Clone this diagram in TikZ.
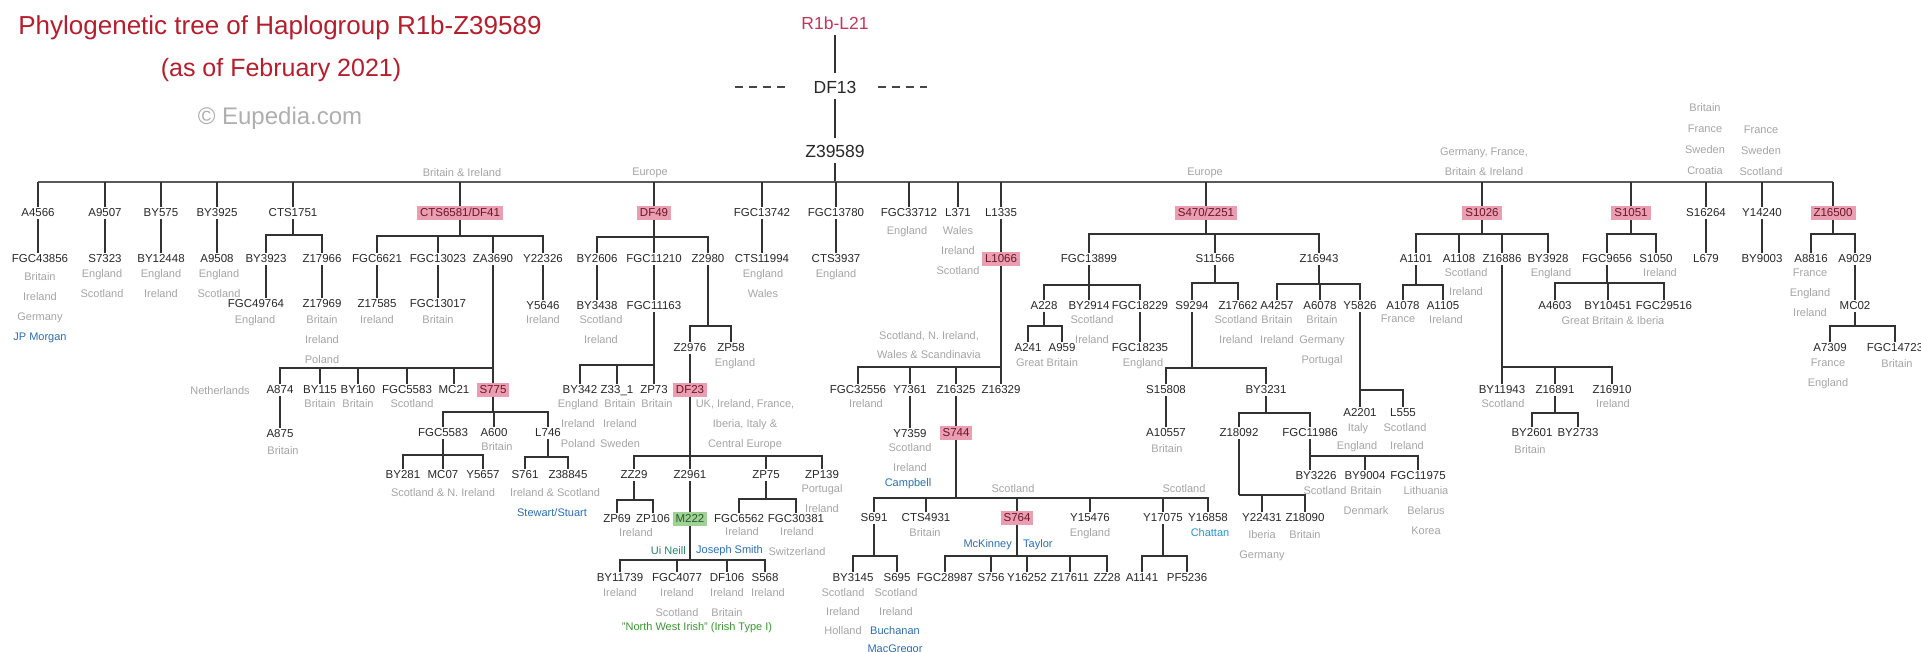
\documentclass[tikz,border=0pt]{standalone}
\usepackage{fontspec}
\setmainfont{Liberation Sans}
\definecolor{titlered}{RGB}{180,30,45}
\definecolor{rootred}{RGB}{196,52,92}
\definecolor{lbltxt}{RGB}{40,40,40}
\definecolor{grtxt}{RGB}{165,165,165}
\definecolor{bltxt}{RGB}{45,110,175}
\definecolor{cyantxt}{RGB}{40,150,195}
\definecolor{tealtxt}{RGB}{40,130,110}
\definecolor{greentxt}{RGB}{60,150,50}
\definecolor{hlfill}{RGB}{233,158,178}
\definecolor{hltxt}{RGB}{110,20,40}
\definecolor{hgfill}{RGB}{160,210,150}
\definecolor{hgtxt}{RGB}{40,90,40}
\definecolor{linec}{RGB}{50,50,50}
\definecolor{mainc}{RGB}{90,90,90}
\definecolor{copyc}{RGB}{175,175,175}
\definecolor{dashc}{RGB}{70,70,70}

\newcommand\lblf{\fontsize{11.5}{14}\selectfont}
\newcommand\grf{\fontsize{11}{20}\selectfont}
\newcommand\bigf{\fontsize{17.5}{20}\selectfont}

% marker node: name, x, y, text
\newcommand\tnode[5][lb]{\node[#1] (#2) at (#3,#4) {#5};}
% grey note whose first line is centred on (x,y)
\newcommand\gnode[5][gr]{\node[#1] (#2) at (#3,{#4-4}) {#5};}
% straight drop from a marker to the one below it
\newcommand\down[2]{\draw[ln] (#1.south) -- (#1.south |- #2.north);}
% parent, bar level, children
\newcommand\fork[3]{%
  \coordinate (#1B) at (#1.south |- 0,#2);
  \draw[ln] (#1.south) -- (#1B);
  \foreach \kid in {#3}{\draw[ln] (#1B) -| (\kid.north);}}

\tikzset{
  lb/.style={font=\lblf, text=lbltxt, inner sep=1.5pt, text height=8.4pt, text depth=0.6pt},
  hl/.style={lb, fill=hlfill, text=hltxt, inner xsep=3pt, inner ysep=2.5pt},
  hg/.style={lb, fill=hgfill, text=hgtxt, inner xsep=3pt, inner ysep=2.5pt},
  gr/.style={font=\grf, text=grtxt, align=center, anchor=north, inner sep=0pt},
  bl/.style={gr, text=bltxt},
  ln/.style={draw=linec, line width=1.7pt},
  mainln/.style={draw=mainc, line width=2.8pt},
}

\begin{document}
\begin{tikzpicture}[x=1pt, y=-1pt]
\fill[white] (0,0) rectangle (1921,652);
\useasboundingbox (0,0) rectangle (1921,652);

% ---------- headings ----------
\node[font=\fontsize{26}{30}\selectfont, text=titlered, anchor=base] (title1) at (280,35) {Phylogenetic tree of Haplogroup R1b-Z39589};
\node[font=\fontsize{25}{30}\selectfont, text=titlered, anchor=base] (title2) at (281,77) {(as of February 2021)};
\node[font=\fontsize{24}{30}\selectfont, text=copyc, anchor=base] (title3) at (280,125) {© Eupedia.com};

% ---------- root ----------
\node[font=\bigf, text=rootred, anchor=base, inner sep=2pt] (R1bL21) at (835,30) {R1b-L21};
\node[font=\bigf, text=lbltxt, anchor=base, inner sep=2pt] (DF13) at (835,94) {DF13};
\node[font=\bigf, text=lbltxt, anchor=base, inner sep=2pt] (Z39589) at (835,158) {Z39589};
\draw[ln, shorten <=3pt, shorten >=7pt] (R1bL21.south) -- (R1bL21.south |- DF13.north);
\draw[ln, shorten <=3pt, shorten >=6pt] (DF13.south) -- (DF13.south |- Z39589.north);
\coordinate (dL1) at (735,87); \coordinate (dL2) at (787,87);
\coordinate (dR1) at (878,87); \coordinate (dR2) at (927,87);
\draw[draw=dashc, line width=1.4pt, dash pattern=on 8pt off 6pt] (dL1) -- (dL2);
\draw[draw=dashc, line width=1.4pt, dash pattern=on 8pt off 6pt] (dR1) -- (dR2);

% ---------- first level ----------
\tnode{A4566}{38}{213}{A4566}
\tnode{A9507}{105}{213}{A9507}
\tnode{BY575}{161}{213}{BY575}
\tnode{BY3925}{217}{213}{BY3925}
\tnode{CTS1751}{293}{213}{CTS1751}
\tnode[hl]{CTS6581}{460}{213}{CTS6581/DF41}
\tnode[hl]{DF49}{654}{213}{DF49}
\tnode{FGC13742}{762}{213}{FGC13742}
\tnode{FGC13780}{836}{213}{FGC13780}
\tnode{FGC33712}{909}{213}{FGC33712}
\tnode{L371}{958}{213}{L371}
\tnode{L1335}{1001}{213}{L1335}
\tnode[hl]{S470}{1206}{213}{S470/Z251}
\tnode[hl]{S1026}{1482}{213}{S1026}
\tnode[hl]{S1051}{1631}{213}{S1051}
\tnode{S16264}{1706}{213}{S16264}
\tnode{Y14240}{1762}{213}{Y14240}
\tnode[hl]{Z16500}{1833}{213}{Z16500}

\coordinate (mainB) at (835,182);
\draw[ln, shorten <=3pt] (Z39589.south) -- (mainB);
\draw[mainln] (A4566.north |- mainB) -- (Z16500.north |- mainB);
\foreach \kid in {A4566,A9507,BY575,BY3925,CTS1751,CTS6581,DF49,FGC13742,FGC13780,FGC33712,L371,L1335,S470,S1026,S1051,S16264,Y14240,Z16500}
  {\draw[ln] (\kid.north |- mainB) -- (\kid.north);}

% regions over the first level
\gnode{rBI}{462}{172}{Britain \& Ireland}
\gnode{rEu1}{650}{172}{Europe}
\gnode{rEu2}{1205}{172}{Europe}
\gnode{rGF}{1484}{152}{Germany, France,\\Britain \& Ireland}
\gnode[gr, font=\fontsize{11}{21}\selectfont]{rS16264}{1705}{107}{Britain\\France\\Sweden\\Croatia}
\gnode[gr, font=\fontsize{11}{21}\selectfont]{rY14240}{1761}{130}{France\\Sweden\\Scotland}
\gnode{gFGC33712}{907}{230}{England}
\gnode{gL371}{958}{230}{Wales\\Ireland\\Scotland}

% ---------- small early branches ----------
\tnode{FGC43856}{40}{259}{FGC43856} \down{A4566}{FGC43856}
\gnode{gFGC43856}{40}{276}{Britain\\Ireland\\Germany\\\textcolor{bltxt}{JP Morgan}}
\tnode{S7323}{105}{259}{S7323} \down{A9507}{S7323}
\gnode{gS7323}{102}{273}{England\\Scotland}
\tnode{BY12448}{161}{259}{BY12448} \down{BY575}{BY12448}
\gnode{gBY12448}{161}{273}{England\\Ireland}
\tnode{A9508}{217}{259}{A9508} \down{BY3925}{A9508}
\gnode{gA9508}{219}{273}{England\\Scotland}

% CTS1751
\tnode{BY3923}{266}{259}{BY3923}
\tnode{Z17966}{322}{259}{Z17966}
\fork{CTS1751}{235}{BY3923,Z17966}
\tnode{FGC49764}{256}{304}{FGC49764} \down{BY3923}{FGC49764}
\gnode{gFGC49764}{255}{319}{England}
\tnode{Z17969}{322}{304}{Z17969} \down{Z17966}{Z17969}
\gnode{gZ17969}{322}{319}{Britain\\Ireland\\Poland}

% CTS6581/DF41
\tnode{FGC6621}{377}{259}{FGC6621}
\tnode{FGC13023}{438}{259}{FGC13023}
\tnode{ZA3690}{493}{259}{ZA3690}
\tnode{Y22326}{543}{259}{Y22326}
\fork{CTS6581}{236}{FGC6621,FGC13023,ZA3690,Y22326}
\tnode{Z17585}{377}{304}{Z17585} \down{FGC6621}{Z17585}
\gnode{gZ17585}{377}{319}{Ireland}
\tnode{FGC13017}{438}{304}{FGC13017} \down{FGC13023}{FGC13017}
\gnode{gFGC13017}{438}{319}{Britain}
\tnode{Y5646}{543}{306}{Y5646} \down{Y22326}{Y5646}
\gnode{gY5646}{543}{319}{Ireland}

\tnode{A874}{280}{390}{A874}
\tnode{BY115}{320}{390}{BY115}
\tnode{BY160}{358}{390}{BY160}
\tnode{FGC5583a}{407}{390}{FGC5583}
\tnode{MC21}{454}{390}{MC21}
\tnode[hl]{S775}{493}{390}{S775}
\fork{ZA3690}{368}{A874,BY115,BY160,FGC5583a,MC21,S775}
\gnode{gNeth}{220}{390}{Netherlands}
\gnode{gBY115}{320}{403}{Britain}
\gnode{gBY160}{358}{403}{Britain}
\gnode{gFGC5583a}{412}{403}{Scotland}
\tnode{A875}{280}{434}{A875} \down{A874}{A875}
\gnode{gA875}{283}{450}{Britain}

\tnode{FGC5583b}{443}{433}{FGC5583}
\tnode{A600}{494}{433}{A600}
\tnode{L746}{548}{433}{L746}
\fork{S775}{412}{FGC5583b,A600,L746}
\gnode{gA600}{497}{446}{Britain}
\tnode{BY281}{403}{475}{BY281}
\tnode{MC07}{443}{475}{MC07}
\tnode{Y5657}{483}{475}{Y5657}
\fork{FGC5583b}{455}{BY281,MC07,Y5657}
\gnode{gBY281}{443}{492}{Scotland \& N. Ireland}
\tnode{S761}{525}{475}{S761}
\tnode{Z38845}{568}{475}{Z38845}
\fork{L746}{457}{S761,Z38845}
\gnode{gS761}{555}{492}{Ireland \& Scotland}
\gnode[bl]{gStewart}{552}{512}{Stewart/Stuart}

% DF49
\tnode{BY2606}{597}{259}{BY2606}
\tnode{FGC11210}{654}{259}{FGC11210}
\tnode{Z2980}{708}{259}{Z2980}
\fork{DF49}{237}{BY2606,FGC11210,Z2980}
\tnode{BY3438}{597}{306}{BY3438} \down{BY2606}{BY3438}
\gnode{gBY3438}{601}{319}{Scotland\\Ireland}
\tnode{FGC11163}{654}{306}{FGC11163} \down{FGC11210}{FGC11163}
\tnode{BY342}{580}{390}{BY342}
\tnode{Z331}{617}{390}{Z33\_1}
\tnode{ZP73}{654}{390}{ZP73}
\fork{FGC11163}{365}{BY342,Z331,ZP73}
\gnode{gBY342}{578}{403}{England\\Ireland\\Poland}
\gnode{gZ331}{620}{403}{Britain\\Ireland\\Sweden}
\gnode{gZP73}{657}{403}{Britain}

\tnode{Z2976}{690}{348}{Z2976}
\tnode{ZP58}{731}{348}{ZP58}
\fork{Z2980}{326}{Z2976,ZP58}
\gnode{gZP58}{735}{362}{England}
\tnode[hl]{DF23}{690}{390}{DF23} \down{Z2976}{DF23}
\gnode{gDF23}{745}{403}{UK, Ireland, France,\\Iberia, Italy \&\\Central Europe}
\tnode{ZZ29}{634}{475}{ZZ29}
\tnode{Z2961}{690}{475}{Z2961}
\tnode{ZP75}{766}{475}{ZP75}
\tnode{ZP139}{822}{475}{ZP139}
\fork{DF23}{456}{ZZ29,Z2961,ZP75,ZP139}
\gnode{gZP139}{822}{488}{Portugal\\Ireland}
\tnode{ZP69}{617}{519}{ZP69}
\tnode{ZP106}{653}{519}{ZP106}
\fork{ZZ29}{500}{ZP69,ZP106}
\gnode{gZP106}{636}{532}{Ireland}
\tnode[hg]{M222}{690}{519}{M222} \down{Z2961}{M222}
\tnode{BY11739}{620}{578}{BY11739}
\tnode{FGC4077}{677}{578}{FGC4077}
\tnode{DF106}{727}{578}{DF106}
\tnode{S568}{765}{578}{S568}
\fork{M222}{560}{BY11739,FGC4077,DF106,S568}
\node[gr, text=tealtxt, anchor=east] (gUiNeill) at (686,551) {Ui Neill};
\node[bl, anchor=west] (gJSmith) at (696,551) {Joseph Smith};
\gnode{gBY11739}{620}{592}{Ireland}
\gnode{gFGC4077}{677}{592}{Ireland\\Scotland}
\gnode{gDF106}{727}{592}{Ireland\\Britain}
\gnode{gS568}{768}{592}{Ireland}
\gnode[gr, text=greentxt]{gNWI}{697}{626}{"North West Irish" (Irish Type I)}
\tnode{FGC6562}{739}{519}{FGC6562}
\tnode{FGC30381}{796}{519}{FGC30381}
\fork{ZP75}{499}{FGC6562,FGC30381}
\gnode{gFGC6562}{742}{531}{Ireland}
\gnode{gFGC30381}{797}{531}{Ireland\\Switzerland}

% FGC13742, FGC13780
\tnode{CTS11994}{762}{259}{CTS11994} \down{FGC13742}{CTS11994}
\gnode{gCTS11994}{763}{273}{England\\Wales}
\tnode{CTS3937}{836}{259}{CTS3937} \down{FGC13780}{CTS3937}
\gnode{gCTS3937}{836}{273}{England}

% L1335
\tnode[hl]{L1066}{1001}{259}{L1066} \down{L1335}{L1066}
\tnode{FGC32556}{858}{390}{FGC32556}
\tnode{Y7361}{910}{390}{Y7361}
\tnode{Z16325}{956}{390}{Z16325}
\tnode{Z16329}{1001}{390}{Z16329}
\fork{L1066}{367}{FGC32556,Y7361,Z16325,Z16329}
\gnode[gr, font=\fontsize{11}{19}\selectfont]{gL1066}{929}{335}{Scotland, N. Ireland,\\Wales \& Scandinavia}
\gnode{gFGC32556}{866}{403}{Ireland}
\tnode{Y7359}{910}{434}{Y7359} \down{Y7361}{Y7359}
\gnode{gY7359}{910}{447}{Scotland\\Ireland}
\gnode[bl]{gCampbell}{908}{482}{Campbell}
\tnode[hl]{S744}{956}{433}{S744} \down{Z16325}{S744}
\tnode{S691}{874}{518}{S691}
\tnode{CTS4931}{926}{518}{CTS4931}
\tnode[hl]{S764}{1017}{518}{S764}
\tnode{Y15476}{1090}{518}{Y15476}
\tnode{Y17075}{1163}{518}{Y17075}
\tnode{Y16858}{1208}{518}{Y16858}
\fork{S744}{498}{S691,CTS4931,S764,Y15476,Y17075,Y16858}
\gnode{gS764r}{1013}{488}{Scotland}
\gnode{gY17075r}{1184}{488}{Scotland}
\gnode{gCTS4931}{925}{532}{Britain}
\gnode{gY15476}{1090}{532}{England}
\gnode[bl, text=cyantxt]{gChattan}{1210}{532}{Chattan}
\tnode{BY3145}{853}{578}{BY3145}
\tnode{S695}{897}{578}{S695}
\fork{S691}{556}{BY3145,S695}
\gnode[gr, font=\fontsize{11}{19}\selectfont]{gBY3145}{843}{592}{Scotland\\Ireland\\Holland}
\gnode[gr, font=\fontsize{11}{19}\selectfont]{gS695}{896}{592}{Scotland\\Ireland}
\gnode[bl, font=\fontsize{11}{18}\selectfont]{gBuch}{895}{630}{Buchanan\\MacGregor}
\tnode{FGC28987}{945}{578}{FGC28987}
\tnode{S756}{991}{578}{S756}
\tnode{Y16252}{1027}{578}{Y16252}
\tnode{Z17611}{1070}{578}{Z17611}
\tnode{ZZ28}{1107}{578}{ZZ28}
\fork{S764}{556}{FGC28987,S756,Y16252,Z17611,ZZ28}
\node[bl, anchor=east] (gMcKinney) at (1012,545) {McKinney};
\node[bl, anchor=west] (gTaylor) at (1023,545) {Taylor};
\tnode{A1141}{1142}{578}{A1141}
\tnode{PF5236}{1187}{578}{PF5236}
\fork{Y17075}{556}{A1141,PF5236}

% S470/Z251
\tnode{FGC13899}{1089}{259}{FGC13899}
\tnode{S11566}{1215}{259}{S11566}
\tnode{Z16943}{1319}{259}{Z16943}
\fork{S470}{234}{FGC13899,S11566,Z16943}
\tnode{A228}{1044}{306}{A228}
\tnode{BY2914}{1089}{306}{BY2914}
\tnode{FGC18229}{1140}{306}{FGC18229}
\fork{FGC13899}{285}{A228,BY2914,FGC18229}
\gnode{gBY2914}{1092}{319}{Scotland\\Ireland}
\tnode{A241}{1028}{348}{A241}
\tnode{A959}{1062}{348}{A959}
\fork{A228}{326}{A241,A959}
\gnode{gA241}{1047}{362}{Great Britain}
\tnode{FGC18235}{1140}{348}{FGC18235} \down{FGC18229}{FGC18235}
\gnode{gFGC18235}{1143}{362}{England}
\tnode{S9294}{1192}{306}{S9294}
\tnode{Z17662}{1238}{306}{Z17662}
\fork{S11566}{283}{S9294,Z17662}
\gnode{gZ17662}{1236}{319}{Scotland\\Ireland}
\tnode{S15808}{1166}{390}{S15808}
\tnode{BY3231}{1266}{390}{BY3231}
\fork{S9294}{368}{S15808,BY3231}
\tnode{A10557}{1166}{433}{A10557} \down{S15808}{A10557}
\gnode{gA10557}{1167}{448}{Britain}
\tnode{Z18092}{1239}{433}{Z18092}
\tnode{FGC11986}{1310}{433}{FGC11986}
\fork{BY3231}{413}{Z18092,FGC11986}
\tnode{Y22431}{1262}{518}{Y22431}
\tnode{Z18090}{1305}{518}{Z18090}
\fork{Z18092}{495}{Y22431,Z18090}
\gnode{gY22431}{1262}{534}{Iberia\\Germany}
\gnode{gZ18090}{1305}{534}{Britain}
\tnode{BY3226}{1316}{476}{BY3226}
\tnode{BY9004}{1365}{476}{BY9004}
\tnode{FGC11975}{1418}{476}{FGC11975}
\fork{FGC11986}{456}{BY9004,FGC11975}
\draw[ln] (FGC11986B) -- (FGC11986B |- BY3226.north);
\gnode{gEngl}{1357}{445}{England}
\gnode{gIrel}{1407}{445}{Ireland}
\gnode{gBY3226}{1325}{490}{Scotland}
\gnode{gBY9004}{1366}{490}{Britain\\Denmark}
\gnode{gFGC11975}{1426}{490}{Lithuania\\Belarus\\Korea}
\tnode{A4257}{1277}{306}{A4257}
\tnode{A6078}{1320}{306}{A6078}
\tnode{Y5826}{1360}{306}{Y5826}
\fork{Z16943}{284}{A4257,A6078,Y5826}
\gnode{gA4257}{1277}{319}{Britain\\Ireland}
\gnode{gA6078}{1322}{319}{Britain\\Germany\\Portugal}
\tnode{A2201}{1360}{413}{A2201}
\tnode{L555}{1403}{413}{L555}
\fork{Y5826}{390}{A2201,L555}
\gnode{gA2201}{1358}{427}{Italy}
\gnode{gL555}{1405}{427}{Scotland}

% S1026
\tnode{A1101}{1416}{259}{A1101}
\tnode{A1108}{1459}{259}{A1108}
\tnode{Z16886}{1502}{259}{Z16886}
\tnode{BY3928}{1548}{259}{BY3928}
\fork{S1026}{234}{A1101,A1108,Z16886,BY3928}
\gnode[gr, font=\fontsize{11}{19}\selectfont]{gA1108}{1466}{272}{Scotland\\Ireland}
\gnode{gBY3928}{1551}{272}{England}
\tnode{A1078}{1403}{306}{A1078}
\tnode{A1105}{1443}{306}{A1105}
\fork{A1101}{285}{A1078,A1105}
\gnode{gA1078}{1398}{319}{France}
\gnode{gA1105}{1446}{319}{Ireland}
\tnode{BY11943}{1502}{390}{BY11943}
\tnode{Z16891}{1555}{390}{Z16891}
\tnode{Z16910}{1612}{390}{Z16910}
\fork{Z16886}{367}{BY11943,Z16891,Z16910}
\gnode{gBY11943}{1503}{403}{Scotland}
\gnode{gZ16910}{1613}{403}{Ireland}
\tnode{BY2601}{1532}{433}{BY2601}
\tnode{BY2733}{1578}{433}{BY2733}
\fork{Z16891}{413}{BY2601,BY2733}
\gnode{gBY2601}{1530}{449}{Britain}

% S1051
\tnode{FGC9656}{1607}{259}{FGC9656}
\tnode{S1050}{1656}{259}{S1050}
\fork{S1051}{234}{FGC9656,S1050}
\gnode{gS1050}{1660}{272}{Ireland}
\tnode{A4603}{1555}{306}{A4603}
\tnode{BY10451}{1608}{306}{BY10451}
\tnode{FGC29516}{1664}{306}{FGC29516}
\fork{FGC9656}{283}{A4603,BY10451,FGC29516}
\gnode{gFGC9656}{1613}{320}{Great Britain \& Iberia}

% S16264, Y14240
\tnode{L679}{1706}{259}{L679} \down{S16264}{L679}
\tnode{BY9003}{1762}{259}{BY9003} \down{Y14240}{BY9003}

% Z16500
\tnode{A8816}{1811}{259}{A8816}
\tnode{A9029}{1855}{259}{A9029}
\fork{Z16500}{234}{A8816,A9029}
\gnode{gA8816}{1810}{273}{France\\England\\Ireland}
\tnode{MC02}{1855}{306}{MC02} \down{A9029}{MC02}
\tnode{A7309}{1830}{348}{A7309}
\tnode{FGC14723}{1895}{348}{FGC14723}
\fork{MC02}{326}{A7309,FGC14723}
\gnode{gA7309}{1828}{363}{France\\England}
\gnode{gFGC14723}{1897}{363}{Britain}
\end{tikzpicture}
\end{document}
